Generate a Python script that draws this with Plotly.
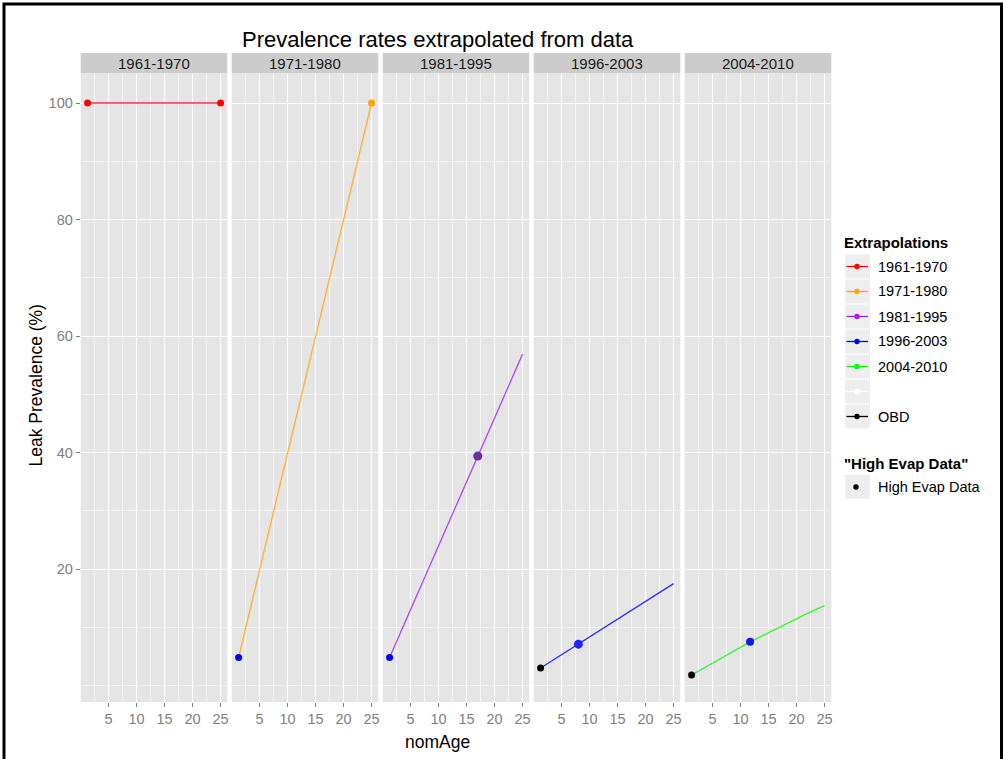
import plotly.graph_objects as go

W, H = 1005, 759

# ---------------- data ----------------
panels = ["1961-1970", "1971-1980", "1981-1995", "1996-2003", "2004-2010"]
line_colors = ["#FF0000", "#FFA500", "#A020F0", "#0000FF", "#00FF00"]

# extrapolation lines (nomAge, Leak Prevalence %) per panel
line_x = [
    [1.25, 25],
    [1.25, 25],
    [1.25, 25],
    [1.25, 8, 25],
    [1.25, 11.7, 22.4, 25],
]
line_y = [
    [100, 100],
    [4.8, 100],
    [4.8, 56.9],
    [3.0, 7.1, 17.5],
    [1.8, 7.5, 12.6, 13.7],
]

# observed / anchor points
pt_panel = [0, 0, 1, 1, 2, 2, 3, 3, 4, 4]
pt_x = [1.25, 25, 1.25, 25, 1.25, 17, 1.25, 8, 1.25, 11.7]
pt_y = [100, 100, 4.8, 100, 4.8, 39.4, 3.0, 7.1, 1.8, 7.5]
pt_color = ["#FF0000", "#FF0000", "#0000FF", "#FFA500", "#0000FF",
            "#6B2E9E", "#000000", "#2525FF", "#000000", "#1515EE"]
pt_size = [7, 7, 7, 7, 7, 9, 7, 9, 7, 8]

x_ticks = [5, 10, 15, 20, 25]
x_minor = [2.5, 7.5, 12.5, 17.5, 22.5]
y_ticks = [20, 40, 60, 80, 100]
y_minor = [0, 10, 30, 50, 70, 90]

legend_labels = ["1961-1970", "1971-1980", "1981-1995", "1996-2003", "2004-2010", "", "OBD"]
legend_colors = ["#FF0000", "#FFA500", "#A020F0", "#0000FF", "#00FF00", "#FFFFFF", "#000000"]

title = "Prevalence rates extrapolated from data"
x_title = "nomAge"
y_title = "Leak Prevalence (%)"

# ---------------- layout geometry (pixels) ----------------
FONT = "Liberation Sans, Arial, sans-serif"
def px(x):
    return x / W
def py(y):
    return 1 - y / H

panel_left0 = 80.7
panel_stride = 151.0
panel_w = 146.6
panel_top, panel_bottom = 74.0, 702.0
strip_top = 53.0

fig = go.Figure()

for i in range(5):
    xa = "x" if i == 0 else f"x{i+1}"
    ya = "y" if i == 0 else f"y{i+1}"
    fig.add_trace(go.Scatter(
        x=line_x[i], y=line_y[i], mode="lines",
        line=dict(color=line_colors[i], width=1.3), opacity=0.8,
        xaxis=xa, yaxis=ya, showlegend=False, hoverinfo="skip"))

for k in range(len(pt_x)):
    i = pt_panel[k]
    xa = "x" if i == 0 else f"x{i+1}"
    ya = "y" if i == 0 else f"y{i+1}"
    fig.add_trace(go.Scatter(
        x=[pt_x[k]], y=[pt_y[k]], mode="markers",
        marker=dict(color=pt_color[k], size=pt_size[k], line=dict(width=0)),
        xaxis=xa, yaxis=ya, showlegend=False, hoverinfo="skip"))

layout = dict(
    width=W, height=H,
    margin=dict(l=0, r=0, t=0, b=0),
    paper_bgcolor="white", plot_bgcolor="#E5E5E5",
    showlegend=False,
    font=dict(family=FONT),
)

shapes = []
annotations = []

for i in range(5):
    left = panel_left0 + panel_stride * i
    right = left + panel_w
    xkey = "xaxis" if i == 0 else f"xaxis{i+1}"
    ykey = "yaxis" if i == 0 else f"yaxis{i+1}"
    ya = "y" if i == 0 else f"y{i+1}"
    xa = "x" if i == 0 else f"x{i+1}"
    layout[xkey] = dict(
        domain=[px(left), px(right)], anchor=ya,
        range=[0.02, 26.2], tickvals=x_ticks, ticktext=[str(v) for v in x_ticks],
        showgrid=True, gridcolor="white", gridwidth=1.4,
        minor=dict(tickvals=x_minor, showgrid=True, gridcolor="#F4F4F4", gridwidth=0.8, ticks=""),
        ticks="outside", ticklen=4, tickwidth=1, tickcolor="#7F7F7F",
        tickfont=dict(family=FONT, size=14.5, color="#7F7F7F"),
        zeroline=False, showline=False, fixedrange=True,
    )
    ydict = dict(
        domain=[py(panel_bottom), py(panel_top)], anchor=xa,
        range=[-2.83, 104.98], tickvals=y_ticks,
        showgrid=True, gridcolor="white", gridwidth=1.4,
        minor=dict(tickvals=y_minor, showgrid=True, gridcolor="#F4F4F4", gridwidth=0.8, ticks=""),
        zeroline=False, showline=False, fixedrange=True,
    )
    if i == 0:
        ydict.update(ticks="outside", ticklen=4, tickwidth=1, tickcolor="#7F7F7F",
                     tickfont=dict(family=FONT, size=14.5, color="#7F7F7F"))
    else:
        ydict.update(matches="y", showticklabels=False, ticks="")
    layout[ykey] = ydict

    # strip
    shapes.append(dict(type="rect", xref="paper", yref="paper",
                       x0=px(left), x1=px(right), y0=py(panel_top - 0.5), y1=py(strip_top),
                       fillcolor="#CCCCCC", line=dict(width=0), layer="below"))
    annotations.append(dict(text=panels[i], xref="paper", yref="paper",
                            x=px((left + right) / 2), y=py((strip_top + panel_top) / 2),
                            xanchor="center", yanchor="middle", showarrow=False,
                            font=dict(family=FONT, size=15, color="#1A1A1A")))

# titles
annotations.append(dict(text=title, xref="paper", yref="paper", x=px(438), y=py(40),
                        xanchor="center", yanchor="middle", showarrow=False,
                        font=dict(family=FONT, size=22, color="black")))
annotations.append(dict(text=x_title, xref="paper", yref="paper", x=px(437), y=py(742),
                        xanchor="center", yanchor="middle", showarrow=False,
                        font=dict(family=FONT, size=17.5, color="black")))
annotations.append(dict(text=y_title, xref="paper", yref="paper", x=px(35.5), y=py(386),
                        xanchor="center", yanchor="middle", showarrow=False, textangle=-90,
                        font=dict(family=FONT, size=17.5, color="black")))

# legend (drawn manually)
leg_x0, leg_x1 = 845.0, 870.0
annotations.append(dict(text="<b>Extrapolations</b>", xref="paper", yref="paper",
                        x=px(842), y=py(242.7), xanchor="left", yanchor="middle", showarrow=False,
                        font=dict(family=FONT, size=15, color="black")))
row0, row_h = 266.5, 25.0
for j, (lab, col) in enumerate(zip(legend_labels, legend_colors)):
    yc = row0 + row_h * j
    shapes.append(dict(type="rect", xref="paper", yref="paper",
                       x0=px(leg_x0), x1=px(leg_x1), y0=py(yc + 12), y1=py(yc - 12),
                       fillcolor="#EEEEEE", line=dict(width=0)))
    shapes.append(dict(type="line", xref="paper", yref="paper",
                       x0=px(leg_x0 + 1.5), x1=px(leg_x1 - 2), y0=py(yc), y1=py(yc),
                       line=dict(color=col, width=1.3)))
    shapes.append(dict(type="circle", xref="paper", yref="paper",
                       x0=px(857 - 2.7), x1=px(857 + 2.7), y0=py(yc + 2.7), y1=py(yc - 2.7),
                       fillcolor=col, line=dict(width=0)))
    if lab:
        annotations.append(dict(text=lab, xref="paper", yref="paper",
                                x=px(876), y=py(yc), xanchor="left", yanchor="middle",
                                showarrow=False, font=dict(family=FONT, size=14.5, color="black")))

annotations.append(dict(text="<b>\"High Evap Data\"</b>", xref="paper", yref="paper",
                        x=px(842), y=py(463.3), xanchor="left", yanchor="middle", showarrow=False,
                        font=dict(family=FONT, size=15, color="black")))
yc = 487.0
shapes.append(dict(type="rect", xref="paper", yref="paper",
                   x0=px(leg_x0), x1=px(leg_x1), y0=py(yc + 12), y1=py(yc - 12),
                   fillcolor="#EEEEEE", line=dict(width=0)))
shapes.append(dict(type="circle", xref="paper", yref="paper",
                   x0=px(856 - 2.7), x1=px(856 + 2.7), y0=py(yc + 2.7), y1=py(yc - 2.7),
                   fillcolor="black", line=dict(width=0)))
annotations.append(dict(text="High Evap Data", xref="paper", yref="paper",
                        x=px(876), y=py(yc), xanchor="left", yanchor="middle",
                        showarrow=False, font=dict(family=FONT, size=14.5, color="black")))

# outer black frame
shapes.append(dict(type="rect", xref="paper", yref="paper",
                   x0=px(4), x1=px(1001.5), y0=py(768), y1=py(4),
                   line=dict(color="black", width=3), fillcolor="rgba(0,0,0,0)"))

layout["shapes"] = shapes
layout["annotations"] = annotations
fig.update_layout(**layout)

fig.write_html("out.html",
               config={"displayModeBar": False},
               post_script="document.body.style.margin='0';document.body.style.overflow='hidden';")
